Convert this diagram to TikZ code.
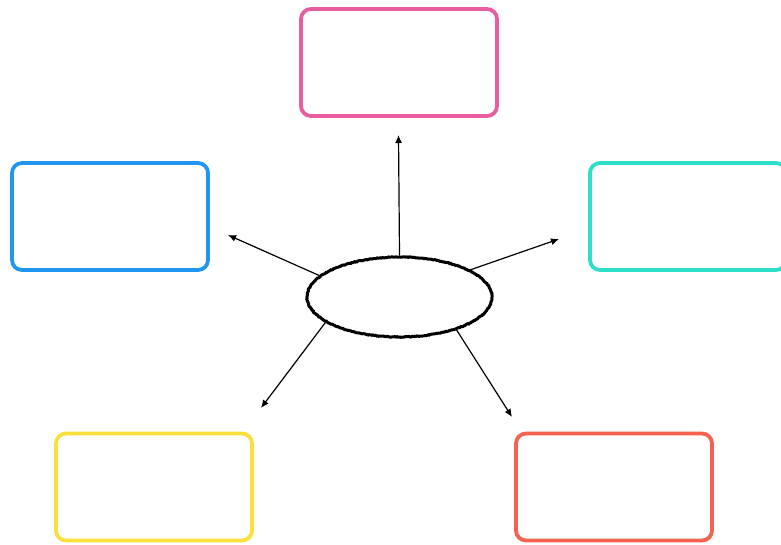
\documentclass[tikz,border=0pt]{standalone}
\usetikzlibrary{shapes.geometric,arrows.meta,decorations.pathmorphing}
\definecolor{cpink}{RGB}{232,92,160}
\definecolor{cblue}{RGB}{32,150,240}
\definecolor{ccyan}{RGB}{45,222,200}
\definecolor{cyellow}{RGB}{250,224,60}
\definecolor{cred}{RGB}{246,98,80}
\begin{document}
\begin{tikzpicture}[x=1pt,y=-1pt,
  box/.style={draw, line width=3.8pt, rounded corners=10pt, minimum width=196pt, minimum height=107pt, inner sep=0pt},
  hub/.style={ellipse, draw=black, line width=3pt, minimum width=185pt, minimum height=80pt, inner sep=0pt,
     decorate, decoration={random steps, segment length=1.2pt, amplitude=0.4pt}},
  conn/.style={line width=1.2pt, -{Latex[length=8pt,width=7pt]}}]
\useasboundingbox (0,0) rectangle (781,544);
\node[box, draw=cpink] (pink) at (399,62.5) {};
\node[box, draw=cblue] (blue) at (110,216.5) {};
\node[box, draw=ccyan] (cyan) at (688,216.5) {};
\node[box, draw=cyellow] (yellow) at (154,487) {};
\node[box, draw=cred] (red) at (614,487) {};
\node[hub] (c) at (399.5,297) {};
\coordinate (tTop) at (398.5,135);
\coordinate (tLeft) at (228,235);
\coordinate (tRight) at (559,239);
\coordinate (tLL) at (261,408);
\coordinate (tLR) at (512,417);
\draw[conn] (c.north) -- (tTop);
\draw[conn] (c.165) -- (tLeft);
\draw[conn] (c.21) -- (tRight);
\draw[conn] (c.199) -- (tLL);
\draw[conn] (c.-30) -- (tLR);
\end{tikzpicture}
\end{document}
